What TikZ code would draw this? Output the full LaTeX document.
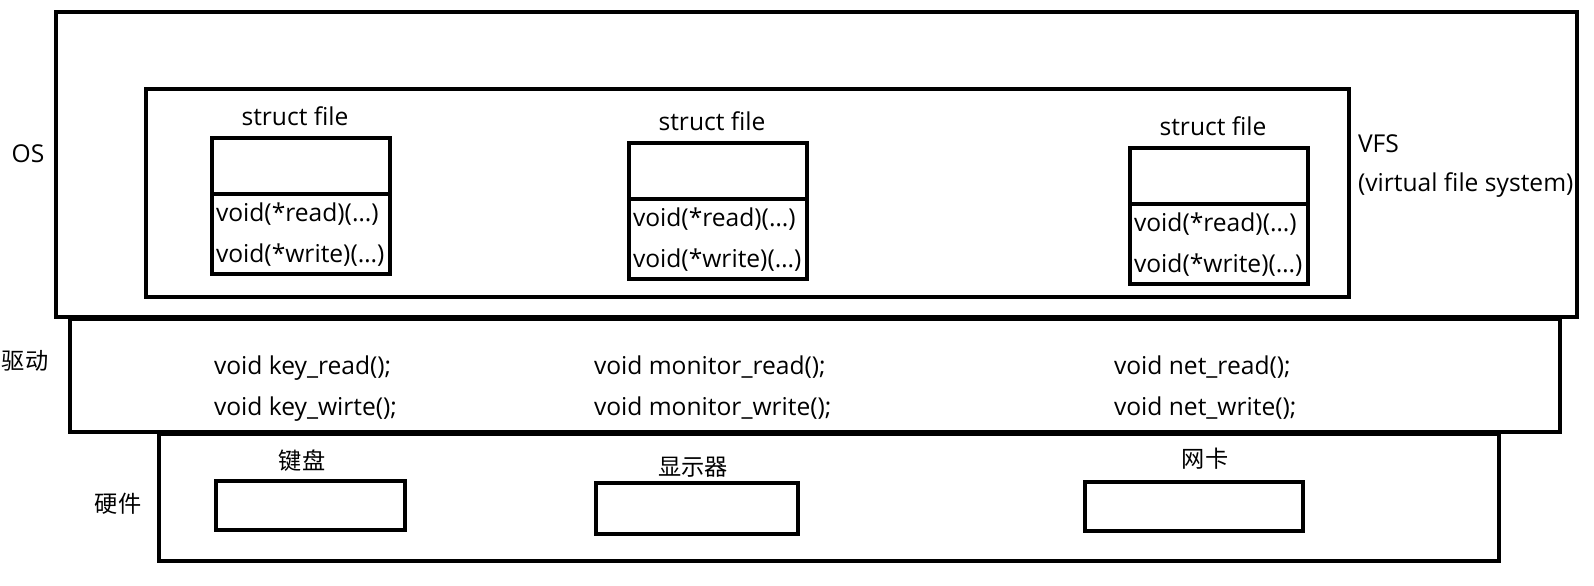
\documentclass[tikz,border=0pt]{standalone}
\usepackage{fontspec}
\setmainfont{Open Sans}
\newfontfamily\cjk{Noto Sans CJK SC}
\tikzset{
  frame/.style={draw, line width=1.6pt, inner sep=0pt, outer sep=0pt, anchor=north west},
  sz/.style 2 args={minimum width={#1*0.5pt}, minimum height={#2*0.5pt}},
  lbl/.style={inner sep=0pt, outer sep=0pt, font=\fontsize{12.3pt}{14pt}\selectfont},
  cn/.style={inner sep=0pt, outer sep=0pt, font=\fontsize{11.6pt}{14pt}\cjk},
}
\begin{document}
\begin{tikzpicture}[x=0.5pt,y=-0.5pt]
\useasboundingbox (0,0) rectangle (1594,585);
% layers
\node[frame, sz={1521}{305}] (os) at (56,12) {};
\node[frame, sz={1203}{208}] (vfs) at (146,89) {};
\node[frame, sz={1490}{113}] (drv) at (70,319) {};
\node[frame, sz={1340}{127}] (hw) at (159,434) {};
% layer labels
\node[lbl] (oslbl) at (28,154) {OS};
\node[lbl, anchor=base west] (vfslbl) at (1358,152) {VFS};
\node[lbl, anchor=base west] (vfslbl2) at (1358,191) {(virtual file system)};
\node[cn] (drvlbl) at (25,361) {驱动};
\node[cn] (hwlbl) at (118,504) {硬件};
% struct file boxes
\foreach \n/\x/\y in {1/212/138, 2/629/143, 3/1130/148}{
  \node[lbl, anchor=base] (st\n) at ({\x+83},{\y-13}) {struct file};
  \node[frame, sz={178}{56}] (s\n t) at (\x,\y) {};
  \node[frame, sz={178}{80}] (s\n b) at (\x,{\y+56}) {};
  \node[lbl, anchor=base west] (s\n r) at ({\x+4},{\y+56+27}) {void(*read)(…)};
  \node[lbl, anchor=base west] (s\n w) at ({\x+4},{\y+56+68}) {void(*write)(…)};
}
% driver functions
\node[lbl, anchor=base west] (kr) at (214,374) {void key\_read();};
\node[lbl, anchor=base west] (kw) at (214,415) {void key\_wirte();};
\node[lbl, anchor=base west] (mr) at (594,374) {void monitor\_read();};
\node[lbl, anchor=base west] (mw) at (594,415) {void monitor\_write();};
\node[lbl, anchor=base west] (nr) at (1114,374) {void net\_read();};
\node[lbl, anchor=base west] (nw) at (1114,415) {void net\_write();};
% hardware
\node[cn] (kbl) at (302,461) {键盘};
\node[frame, sz={189}{49}] (kb) at (216,481) {};
\node[cn] (mol) at (693,467) {显示器};
\node[frame, sz={202}{51}] (mo) at (596,483) {};
\node[cn] (ncl) at (1205,459) {网卡};
\node[frame, sz={218}{49}] (nc) at (1085,482) {};
\end{tikzpicture}
\end{document}
